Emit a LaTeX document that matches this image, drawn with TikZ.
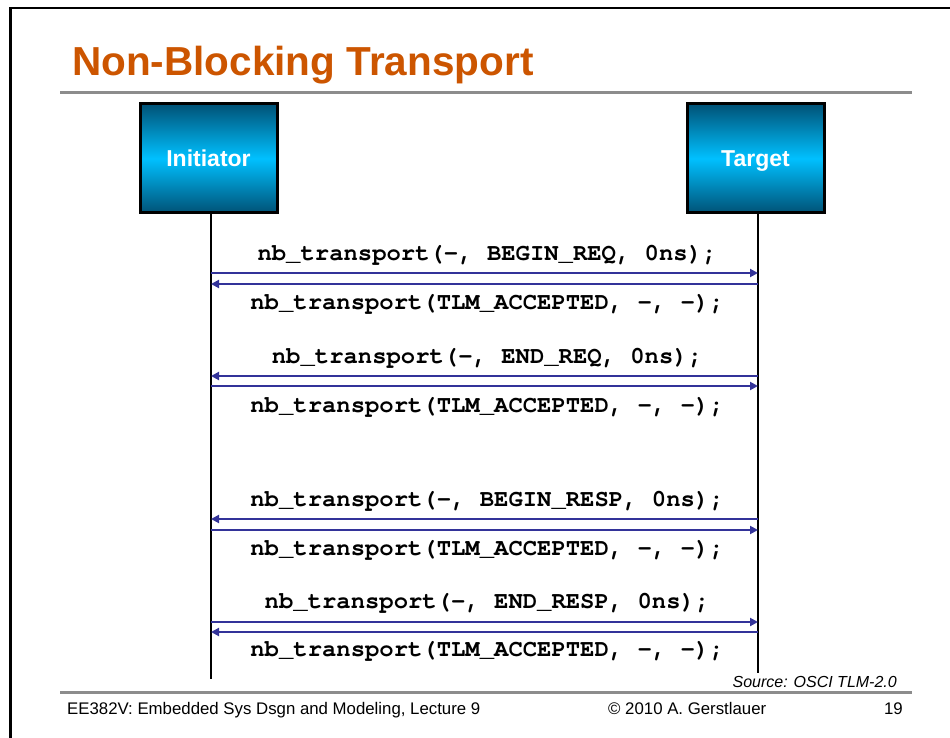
\documentclass[tikz,border=0pt]{standalone}
\usepackage{fontspec}
\setmainfont{Liberation Sans}
\newfontfamily\codefont{texgyrecursor}[Extension=.otf, UprightFont=*-regular, BoldFont=*-bold]
\usetikzlibrary{arrows.meta}

\definecolor{titleorange}{RGB}{204,85,0}
\definecolor{rulegray}{RGB}{140,140,140}
\definecolor{msgblue}{RGB}{51,51,153}
\definecolor{boxdark}{RGB}{0,82,118}
\definecolor{boxlight}{RGB}{0,192,255}

\tikzset{
  party/.style={draw=black, line width=3pt, minimum width=137pt, minimum height=109pt,
    shading=axis, top color=boxdark, bottom color=boxdark, middle color=boxlight,
    text=white, font=\fontsize{23}{26}\selectfont\bfseries, inner sep=0pt,
    text height=16.5pt, text depth=0pt},
  lifeline/.style={draw=black, line width=2pt},
  msg/.style={draw=msgblue, line width=2pt, -{Triangle[length=8pt,width=8pt]}},
  msglabel/.style={font=\codefont\bfseries\fontsize{23.9}{26}\selectfont, inner sep=0pt},
  footer/.style={font=\fontsize{16.8}{19}\selectfont, inner sep=0pt},
  rulebar/.style={draw=rulegray, line width=3pt}
}

\begin{document}
\begin{tikzpicture}[x=1pt,y=-1pt]
  % page area
  \fill[white] (0,0) rectangle (950,738);
  \useasboundingbox (0,0) rectangle (950,738);

  % slide frame (left and top edges)
  \draw[line width=2.5pt, black] (10.5,738) -- (10.5,8) -- (950,8);

  % title and rule under it
  \node[anchor=base west, inner sep=0pt, text=titleorange,
        font=\fontsize{40.5}{44}\selectfont\bfseries] (title) at (72,76) {Non-Blocking Transport};
  \coordinate (tr1) at (60,93);
  \coordinate (tr2) at (912,93);
  \draw[rulebar] (tr1) -- (tr2);

  % the two parties
  \node[party] (init) at (208.5,158.5) {Initiator};
  \node[party] (targ) at (755.5,158.5) {Target};

  % lifelines
  \coordinate (iend) at (211,679);
  \coordinate (tend) at (758,673);
  \draw[lifeline] (211,213) -- (iend);
  \draw[lifeline] (758,213) -- (tend);

  % message end points on the lifelines
  \foreach \n/\y in {a/273, b/284, c/376, d/386, e/519, f/530, g/622, h/632} {
    \coordinate (i\n) at (211,\y);
    \coordinate (t\n) at (758,\y);
  }

  % BEGIN_REQ phase
  \draw[msg] (ia) -- (ta);
  \draw[msg] (tb) -- (ib);
  \node[msglabel] (l1) at (487,255) {nb\_transport(-, BEGIN\_REQ, 0ns);};
  \node[msglabel] (l2) at (487,304) {nb\_transport(TLM\_ACCEPTED, -, -);};

  % END_REQ phase
  \draw[msg] (tc) -- (ic);
  \draw[msg] (id) -- (td);
  \node[msglabel] (l3) at (487,358) {nb\_transport(-, END\_REQ, 0ns);};
  \node[msglabel] (l4) at (487,407) {nb\_transport(TLM\_ACCEPTED, -, -);};

  % BEGIN_RESP phase
  \draw[msg] (te) -- (ie);
  \draw[msg] (if) -- (tf);
  \node[msglabel] (l5) at (487,501) {nb\_transport(-, BEGIN\_RESP, 0ns);};
  \node[msglabel] (l6) at (487,550) {nb\_transport(TLM\_ACCEPTED, -, -);};

  % END_RESP phase
  \draw[msg] (ig) -- (tg);
  \draw[msg] (th) -- (ih);
  \node[msglabel] (l7) at (487,603) {nb\_transport(-, END\_RESP, 0ns);};
  \node[msglabel] (l8) at (487,651) {nb\_transport(TLM\_ACCEPTED, -, -);};

  % source note
  \node[anchor=base east, inner sep=0pt, font=\fontsize{16}{18}\selectfont\itshape]
       (src) at (897,687) {Source: OSCI TLM-2.0};

  % footer
  \coordinate (fr1) at (60,692);
  \coordinate (fr2) at (912,692);
  \draw[rulebar] (fr1) -- (fr2);
  \node[footer, anchor=base west] (course) at (67,714)
       {EE382V: Embedded Sys Dsgn and Modeling, Lecture 9};
  \node[footer, anchor=base west] (copy) at (608,714) {© 2010 A. Gerstlauer};
  \node[footer, anchor=base east] (page) at (903,714) {19};
\end{tikzpicture}
\end{document}
